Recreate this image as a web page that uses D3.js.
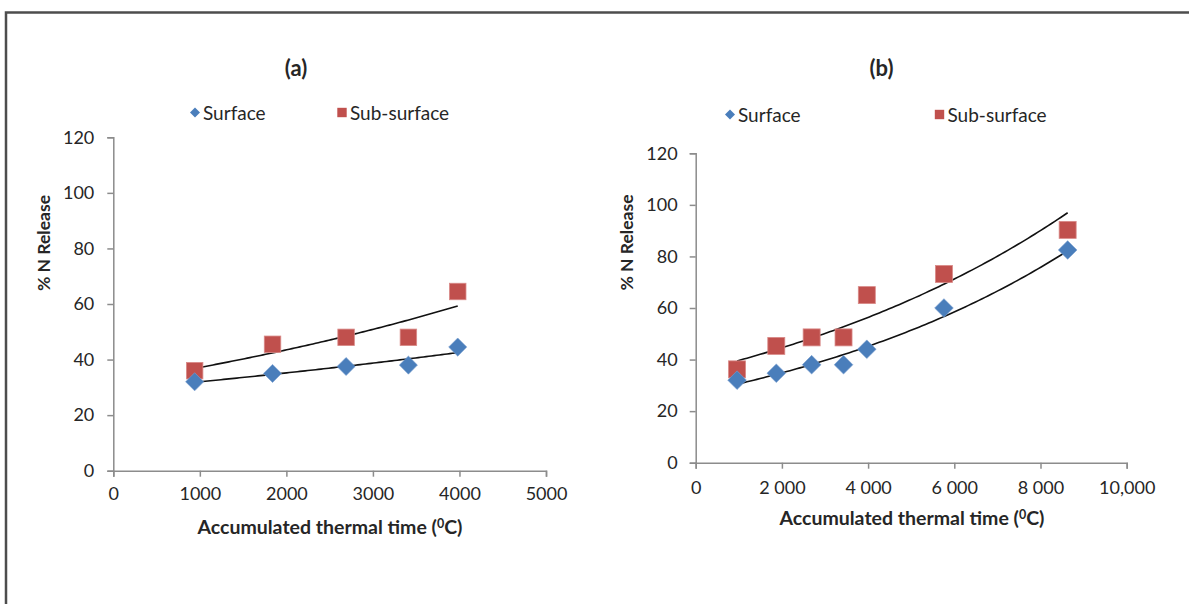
<!DOCTYPE html>
<html>
<head>
<meta charset="utf-8">
<script src="https://cdn.jsdelivr.net/npm/d3@7"></script>
<style>
  html, body { margin: 0; padding: 0; background: #fff; }
  svg { display: block; }
  text { font-family: Lato, "Open Sans", sans-serif; fill: #262626; }
</style>
</head>
<body>
<svg id="chart" width="1189" height="604"></svg>
<script>
// ---------- data ----------
const yTicks = [0, 20, 40, 60, 80, 100, 120];

const xA = [940, 1840, 2690, 3410, 3980];
const surfaceA = [32, 35, 37.5, 38, 44.5];
const subsurfaceA = [36, 45.5, 48, 48, 64.5];
const xTicksA = [0, 1000, 2000, 3000, 4000, 5000];
const xTickLabelsA = ["0", "1000", "2000", "3000", "4000", "5000"];

const xB = [960, 1870, 2690, 3430, 3970, 5760, 8630];
const surfaceB = [32, 34.7, 38, 38, 44, 60, 82.5];
const subsurfaceB = [36.2, 45.3, 48.6, 48.6, 65, 73.2, 90.3];
const xTicksB = [0, 2000, 4000, 6000, 8000, 10000];
const xTickLabelsB = ["0", "2 000", "4 000", "6 000", "8 000", "10,000"];

const seriesNames = ["Surface", "Sub-surface"];
const titles = ["(a)", "(b)"];

const BLUE = "#4a7ebb";
const RED = "#c0504d";
const AXIS = "#8c8c8c";

const svg = d3.select("#chart");

// frame
svg.append("path")
  .attr("d", "M6,604 L6,12.5 L1189,12.5")
  .attr("fill", "none").attr("stroke", "#4d4d4d").attr("stroke-width", 2.5);

// exponential fit (like Excel trendline): ln y = a + k x
function expFit(xs, ys) {
  const n = xs.length;
  const ly = ys.map(v => Math.log(v));
  const mx = d3.mean(xs), my = d3.mean(ly);
  let sxy = 0, sxx = 0;
  for (let i = 0; i < n; i++) { sxy += (xs[i] - mx) * (ly[i] - my); sxx += (xs[i] - mx) ** 2; }
  const k = sxy / sxx, a = my - k * mx;
  return x => Math.exp(a + k * x);
}

function panel(cfg) {
  const g = svg.append("g");
  const x = d3.scaleLinear().domain([0, cfg.xMax]).range([cfg.x0, cfg.x1]);
  const y = d3.scaleLinear().domain([0, 120]).range([cfg.y0, cfg.y1]);

  // y axis
  const ya = g.append("g").attr("transform", `translate(${cfg.x0},0)`)
    .call(d3.axisLeft(y).tickValues(yTicks).tickSize(6).tickPadding(cfg.yPad));
  ya.select(".domain").attr("stroke", AXIS).attr("stroke-width", 1.5);
  ya.selectAll(".tick line").attr("stroke", AXIS).attr("stroke-width", 1.5);
  ya.selectAll("text").style("font-size", "18px").style("font-family", "Lato").attr("fill", "#262626");

  // x axis
  const xa = g.append("g").attr("transform", `translate(0,${cfg.y0})`)
    .call(d3.axisBottom(x).tickValues(cfg.xTicks).tickSize(6)
      .tickFormat((d, i) => cfg.xLabels[i]));
  xa.select(".domain").attr("stroke", AXIS).attr("stroke-width", 1.5);
  xa.selectAll(".tick line").attr("stroke", AXIS).attr("stroke-width", 1.5);
  xa.selectAll("text").style("font-size", "18px").style("font-family", "Lato").attr("fill", "#262626")
    .attr("y", cfg.xLabOff).attr("dy", "0.36em");

  // trendlines
  const line = d3.line().x(d => x(d[0])).y(d => y(d[1]));
  [[cfg.surface], [cfg.sub]].forEach(([ys]) => {
    const f = expFit(cfg.xs, ys);
    const lo = d3.min(cfg.xs), hi = d3.max(cfg.xs);
    const pts = d3.range(0, 101).map(i => { const xv = lo + (hi - lo) * i / 100; return [xv, f(xv)]; });
    g.append("path").attr("d", line(pts)).attr("fill", "none")
      .attr("stroke", "#111").attr("stroke-width", 1.6);
  });

  // markers: sub-surface squares, then surface diamonds
  const sq = cfg.mk;
  g.selectAll(".sq").data(cfg.xs.map((xv, i) => [xv, cfg.sub[i]])).enter()
    .append("rect")
    .attr("x", d => x(d[0]) - sq / 2).attr("y", d => y(d[1]) - sq / 2)
    .attr("width", sq).attr("height", sq)
    .attr("fill", RED).attr("stroke", "#d98a88").attr("stroke-width", 0.8);
  const dm = cfg.mk * 0.55;
  g.selectAll(".dm").data(cfg.xs.map((xv, i) => [xv, cfg.surface[i]])).enter()
    .append("path")
    .attr("d", d => { const cx = x(d[0]), cy = y(d[1]);
      return `M${cx},${cy - dm}L${cx + dm},${cy}L${cx},${cy + dm}L${cx - dm},${cy}Z`; })
    .attr("fill", BLUE).attr("stroke", "#7aa0d0").attr("stroke-width", 0.6);

  // title
  g.append("text").attr("x", cfg.titleX).attr("y", 76).attr("text-anchor", "middle")
    .style("font-size", "22px").style("font-weight", "bold").text(cfg.title);

  // legend
  const L = cfg.legend;
  g.append("path")
    .attr("d", `M${L.dx},${L.y - 5}L${L.dx + 5},${L.y}L${L.dx},${L.y + 5}L${L.dx - 5},${L.y}Z`)
    .attr("fill", BLUE);
  g.append("text").attr("x", L.dx + 8).attr("y", L.y + 7).style("font-size", "19px").text(seriesNames[0]);
  g.append("rect").attr("x", L.sx - 4.7).attr("y", L.y - 4.7).attr("width", 9.4).attr("height", 9.4)
    .attr("fill", RED);
  g.append("text").attr("x", L.sx + 8).attr("y", L.y + 7).style("font-size", "19px").text(seriesNames[1]);

  // axis titles
  const xt = g.append("text").attr("x", cfg.xTitleX).attr("y", cfg.xTitleY).attr("text-anchor", "middle")
    .style("font-size", "19.5px").style("font-weight", "bold");
  xt.append("tspan").text("Accumulated thermal time (");
  xt.append("tspan").attr("dy", -6).style("font-size", "12.5px").text("0");
  xt.append("tspan").attr("dy", 6).text("C)");

  g.append("text").attr("transform", `translate(${cfg.yTitleX},${cfg.yTitleY}) rotate(-90)`)
    .attr("text-anchor", "middle").style("font-size", "17.5px").style("font-weight", "bold")
    .text("% N Release");
}

panel({
  x0: 113.3, x1: 546, y0: 470.7, y1: 137.3, xMax: 5000,
  xs: xA, surface: surfaceA, sub: subsurfaceA,
  xTicks: xTicksA, xLabels: xTickLabelsA, yPad: 13, xLabOff: 23,
  mk: 16.5, title: titles[0], titleX: 296,
  legend: { dx: 195, sx: 342, y: 112.5 },
  xTitleX: 330, xTitleY: 534, yTitleX: 50, yTitleY: 243
});

panel({
  x0: 695.7, x1: 1126.7, y0: 462.7, y1: 153.3, xMax: 10000,
  xs: xB, surface: surfaceB, sub: subsurfaceB,
  xTicks: xTicksB, xLabels: xTickLabelsB, yPad: 12, xLabOff: 25,
  mk: 17, title: titles[1], titleX: 881.5,
  legend: { dx: 730, sx: 939.5, y: 114.5 },
  xTitleX: 912, xTitleY: 525, yTitleX: 633, yTitleY: 242.5
});
</script>
</body>
</html>
